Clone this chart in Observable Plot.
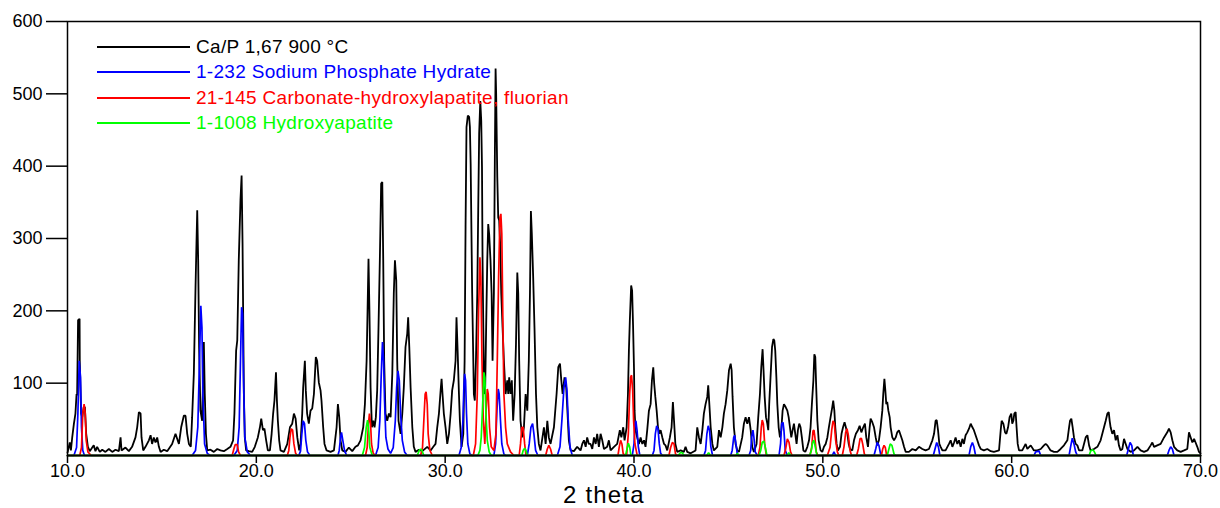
<!DOCTYPE html>
<html>
<head>
<meta charset="utf-8">
<script src="https://cdn.jsdelivr.net/npm/d3@7"></script>
<script src="https://cdn.jsdelivr.net/npm/@observablehq/plot@0.6"></script>
<style>
  html, body { margin: 0; padding: 0; background: #fff; }
  #wrap { position: relative; width: 1220px; height: 508px; font-family: "Liberation Sans", Arial, sans-serif; overflow: hidden; }
  #legend { position: absolute; left: 97px; top: 34px; }
  .row { display: flex; align-items: center; height: 25.5px; font-size: 19px; letter-spacing: 0.3px; white-space: nowrap; }
  .swatch { width: 93px; height: 1.6px; margin-right: 6px; }
  #xtitle { position: absolute; left: 563px; top: 482.5px; font-size: 24px; line-height: 1; letter-spacing: 1.2px; white-space: nowrap; }
</style>
</head>
<body>
<div id="wrap">
  <div id="chart"></div>
  <div id="legend"></div>
  <div id="xtitle"></div>
</div>
<script>
// Measured diffractogram of the sample, [2θ, intensity]
const samplePattern = [
  [10.0,4],[10.02,6],[10.12,18],[10.18,7],[10.25,25],[10.34,44],[10.42,58],[10.48,85],[10.51,83],[10.56,187],[10.64,189],[10.65,131],[10.72,58],[10.78,53],[10.86,67],[10.92,67],[10.99,30],[11.08,12],[11.18,6],[11.31,11],[11.39,14],[11.48,6],[11.57,12],[11.71,5],[11.84,8],[12.01,5],[12.19,9],[12.37,5],[12.54,8],[12.72,6],[12.81,25],[12.86,7],[13.07,11],[13.25,6],[13.42,12],[13.60,25],[13.69,39],[13.78,60],[13.87,58],[13.92,25],[14.01,7],[14.13,12],[14.31,21],[14.40,28],[14.48,16],[14.57,25],[14.66,18],[14.75,25],[14.84,12],[14.93,5],[15.10,8],[15.28,6],[15.54,16],[15.72,30],[15.90,16],[16.02,39],[16.16,55],[16.25,55],[16.34,30],[16.43,16],[16.53,12],[16.60,53],[16.69,113],[16.78,233],[16.83,293],[16.87,339],[16.92,270],[16.97,150],[17.04,62],[17.13,48],[17.22,157],[17.27,85],[17.33,30],[17.40,7],[17.57,8],[17.75,5],[17.93,9],[18.10,7],[18.28,6],[18.46,9],[18.63,12],[18.77,21],[18.84,58],[18.93,145],[18.99,159],[19.07,270],[19.16,353],[19.22,387],[19.27,293],[19.34,85],[19.39,25],[19.46,7],[19.60,6],[19.78,5],[19.92,12],
  [20.08,25],[20.19,39],[20.26,51],[20.35,35],[20.43,37],[20.52,21],[20.61,7],[20.72,7],[20.81,30],[20.89,58],[20.96,76],[21.04,115],[21.09,76],[21.14,48],[21.21,21],[21.28,7],[21.46,5],[21.64,16],[21.78,39],[21.90,44],[21.99,58],[22.08,51],[22.17,25],[22.27,7],[22.34,16],[22.43,58],[22.48,94],[22.57,131],[22.62,90],[22.69,58],[22.78,44],[22.87,62],[22.96,65],[23.05,85],[23.15,136],[23.22,131],[23.31,101],[23.40,90],[23.45,76],[23.54,39],[23.61,16],[23.72,7],[23.93,5],[24.11,7],[24.25,39],[24.32,71],[24.39,53],[24.46,21],[24.55,7],[24.72,5],[24.90,11],[25.08,6],[25.25,12],[25.38,14],[25.52,21],[25.66,39],[25.75,71],[25.84,131],[25.89,200],[25.94,272],[25.99,200],[26.05,94],[26.12,39],[26.19,48],[26.26,39],[26.33,53],[26.40,90],[26.47,177],[26.54,270],[26.61,376],[26.67,378],[26.72,270],[26.77,131],[26.84,58],[26.93,48],[27.02,58],[27.11,53],[27.20,113],[27.28,224],[27.34,270],[27.41,242],[27.46,131],[27.53,48],[27.64,30],[27.73,58],[27.81,94],[27.90,150],[27.99,168],[28.04,191],[28.10,150],[28.17,94],[28.26,39],[28.34,12],[28.43,5],[28.61,8],[28.79,6],[29.05,12],[29.23,7],[29.37,12],[29.49,16],[29.58,39],[29.67,58],[29.76,90],[29.81,106],[29.86,85],[29.93,58],[30.02,39],[30.11,16],
  [30.20,30],[30.29,58],[30.37,90],[30.46,104],[30.55,131],[30.60,191],[30.66,145],[30.73,85],[30.78,48],[30.87,12],[30.96,30],[31.03,131],[31.08,316],[31.13,454],[31.20,470],[31.27,468],[31.31,454],[31.35,403],[31.43,224],[31.52,85],[31.57,76],[31.63,131],[31.70,224],[31.75,339],[31.80,445],[31.86,490],[31.91,463],[31.95,399],[31.98,270],[32.02,177],[32.07,85],[32.12,94],[32.17,177],[32.23,270],[32.28,320],[32.33,306],[32.40,270],[32.46,224],[32.51,131],[32.58,224],[32.63,408],[32.67,535],[32.70,500],[32.76,385],[32.81,329],[32.86,325],[32.92,288],[32.97,224],[33.04,177],[33.11,131],[33.20,85],[33.29,104],[33.34,85],[33.39,108],[33.46,85],[33.53,104],[33.60,48],[33.68,85],[33.75,154],[33.82,253],[33.87,224],[33.92,131],[33.99,48],[34.08,25],[34.17,39],[34.26,85],[34.35,62],[34.43,131],[34.49,224],[34.54,338],[34.59,306],[34.66,247],[34.73,177],[34.81,85],[34.88,39],[34.96,16],[35.05,7],[35.23,39],[35.32,16],[35.41,48],[35.49,25],[35.58,16],[35.76,39],[35.90,85],[35.99,122],[36.08,127],[36.15,104],[36.22,85],[36.32,108],[36.41,94],[36.48,58],[36.55,21],[36.64,7],[36.82,6],[36.99,12],[37.17,7],[37.26,16],[37.35,21],[37.44,12],[37.52,25],[37.61,16],[37.70,16],[37.79,9],[37.88,25],[37.97,16],[38.05,30],[38.14,12],[38.23,30],[38.32,21],[38.41,9],[38.58,12],[38.67,21],[38.76,7],[38.94,12],[39.11,16],[39.25,35],[39.33,25],[39.43,39],[39.50,21],[39.61,39],[39.68,85],[39.73,145],[39.78,187],[39.85,235],[39.90,228],[39.95,180],[40.00,120],
  [40.03,62],[40.08,35],[40.17,25],[40.26,16],[40.35,25],[40.44,16],[40.53,21],[40.61,12],[40.70,35],[40.79,62],[40.88,71],[40.95,104],[41.02,122],[41.07,99],[41.13,81],[41.20,62],[41.27,39],[41.34,30],[41.41,35],[41.50,25],[41.59,16],[41.67,14],[41.76,7],[41.90,25],[41.99,39],[42.06,74],[42.12,48],[42.19,16],[42.29,5],[42.47,7],[42.64,5],[42.73,12],[42.82,5],[43.00,3],[43.26,7],[43.35,39],[43.44,25],[43.53,16],[43.62,35],[43.70,58],[43.79,71],[43.88,81],[43.93,97],[43.99,71],[44.06,39],[44.15,16],[44.23,7],[44.41,12],[44.50,35],[44.59,25],[44.68,39],[44.76,58],[44.85,71],[44.94,90],[45.03,118],[45.12,127],[45.17,118],[45.22,81],[45.29,39],[45.38,16],[45.47,7],[45.56,5],[45.73,25],[45.82,44],[45.91,53],[46.00,44],[46.09,53],[46.18,35],[46.26,12],[46.35,5],[46.49,16],[46.58,53],[46.67,85],[46.74,122],[46.81,147],[46.86,118],[46.92,81],[46.99,53],[47.06,44],[47.11,35],[47.16,71],[47.23,108],[47.31,150],[47.38,161],[47.43,159],[47.48,145],[47.54,108],[47.59,71],[47.66,39],[47.73,25],[47.80,35],[47.87,62],[47.94,71],[48.03,67],[48.12,62],[48.19,53],[48.26,39],[48.33,25],[48.40,35],[48.47,44],[48.54,30],[48.61,16],[48.68,35],[48.75,44],[48.82,39],[48.89,25],[48.97,7],[49.07,5],[49.18,12],[49.27,21],[49.35,39],[49.42,71],[49.50,104],[49.55,140],[49.60,136],[49.65,94],[49.71,48],[49.78,21],[49.88,7],[49.97,5],
  [50.06,12],[50.15,16],[50.24,25],[50.32,39],[50.41,53],[50.50,67],[50.55,76],[50.61,62],[50.66,39],[50.73,16],[50.80,7],[50.91,12],[50.99,30],[51.07,39],[51.15,46],[51.22,39],[51.30,30],[51.37,16],[51.44,9],[51.56,7],[51.65,21],[51.75,30],[51.86,35],[51.95,41],[52.04,32],[52.14,39],[52.23,44],[52.30,25],[52.39,12],[52.48,39],[52.53,51],[52.62,46],[52.71,39],[52.80,25],[52.88,14],[52.97,21],[53.06,39],[53.15,62],[53.20,85],[53.26,106],[53.31,90],[53.36,71],[53.41,74],[53.47,62],[53.54,53],[53.59,39],[53.68,25],[53.77,21],[53.86,25],[53.94,32],[54.03,35],[54.12,28],[54.21,21],[54.30,12],[54.39,5],[54.56,5],[54.74,9],[54.92,7],[55.09,12],[55.27,9],[55.44,7],[55.62,9],[55.80,21],[55.89,30],[55.97,48],[56.03,49],[56.10,35],[56.17,16],[56.24,12],[56.33,7],[56.50,7],[56.68,16],[56.77,21],[56.86,12],[56.95,18],[57.03,25],[57.12,16],[57.21,21],[57.30,12],[57.39,23],[57.47,16],[57.56,28],[57.65,32],[57.74,37],[57.83,44],[57.92,39],[58.00,35],[58.09,28],[58.18,21],[58.27,14],[58.36,9],[58.53,7],[58.71,9],[58.89,6],[59.06,5],[59.33,7],[59.42,35],[59.47,48],[59.56,44],[59.65,32],[59.72,30],[59.81,39],[59.89,53],[59.98,58],
  [60.03,44],[60.09,48],[60.14,58],[60.21,60],[60.26,39],[60.32,16],[60.39,7],[60.56,7],[60.74,16],[60.83,9],[61.01,14],[61.18,7],[61.36,7],[61.54,9],[61.71,14],[61.80,16],[61.89,14],[62.06,7],[62.24,5],[62.42,5],[62.59,9],[62.77,14],[62.95,21],[63.04,39],[63.09,48],[63.16,51],[63.23,39],[63.30,25],[63.39,16],[63.48,14],[63.57,7],[63.74,7],[63.83,16],[63.92,25],[64.01,28],[64.10,14],[64.18,7],[64.36,9],[64.54,12],[64.71,21],[64.80,30],[64.89,39],[64.98,48],[65.07,58],[65.14,60],[65.19,48],[65.24,39],[65.33,30],[65.42,35],[65.51,21],[65.60,28],[65.68,14],[65.77,7],[65.86,9],[65.95,23],[66.04,16],[66.13,9],[66.30,5],[66.48,7],[66.66,12],[66.83,7],[67.01,5],[67.19,7],[67.36,14],[67.45,18],[67.54,12],[67.71,14],[67.89,16],[68.07,25],[68.24,32],[68.33,37],[68.42,32],[68.51,21],[68.60,12],[68.77,7],[68.95,5],[69.13,7],[69.30,9],[69.39,32],[69.48,25],[69.57,18],[69.66,23],[69.74,18],[69.83,12],[69.92,5],[70.0,3]
];

// Reference card 1-232, Sodium Phosphate Hydrate
const sodiumPhosphate = [
  [10.0,0],[10.34,0],[10.48,11],[10.55,58],[10.62,131],[10.69,108],[10.74,39],[10.81,7],[10.90,0],
  [16.60,0],[16.78,7],[16.90,39],[16.99,131],[17.06,207],[17.12,177],[17.17,85],[17.26,16],[17.40,3],[17.57,0],
  [18.81,0],[18.99,7],[19.09,39],[19.16,131],[19.22,205],[19.27,196],[19.32,108],[19.39,25],[19.52,5],[19.69,0],
  [22.25,0],[22.34,6],[22.41,30],[22.48,48],[22.55,44],[22.62,21],[22.71,5],[22.84,0],
  [24.32,0],[24.39,7],[24.46,25],[24.51,32],[24.58,21],[24.67,7],[24.78,0],
  [26.31,0],[26.45,11],[26.54,48],[26.61,108],[26.68,157],[26.74,131],[26.79,76],[26.86,25],[26.97,9],[27.11,3],
  [27.25,11],[27.36,48],[27.43,94],[27.50,117],[27.57,104],[27.64,58],[27.73,21],[27.85,5],[27.99,0],
  [30.73,0],[30.85,11],[30.94,48],[30.99,94],[31.03,113],[31.08,104],[31.13,58],[31.20,16],[31.31,2],[31.43,0],
  [32.58,0],[32.67,16],[32.74,62],[32.81,92],[32.86,85],[32.93,48],[33.00,16],[33.11,2],[33.20,0],
  [34.35,0],[34.45,16],[34.54,39],[34.63,44],[34.70,30],[34.79,7],[34.91,0],
  [35.94,0],[36.08,12],[36.18,48],[36.29,94],[36.38,108],[36.45,90],[36.52,48],[36.61,12],[36.73,0],
  [39.91,0],[40.00,16],[40.05,44],[40.10,48],[40.16,35],[40.23,12],[40.31,0],
  [40.97,0],[41.06,7],[41.13,30],[41.20,41],[41.27,37],[41.34,16],[41.41,3],[41.51,0],
  [43.70,0],[43.79,7],[43.86,30],[43.93,41],[44.00,35],[44.07,12],[44.16,0],
  [45.12,0],[45.20,7],[45.28,25],[45.33,28],[45.40,16],[45.47,2],[45.56,0],
  [46.09,0],[46.18,7],[46.23,25],[46.30,35],[46.35,25],[46.42,5],[46.53,0],
  [47.68,0],[47.76,16],[47.82,44],[47.89,46],[47.94,35],[48.01,7],[48.12,0],
  [50.50,0],[50.59,5],[50.68,0],
  [52.71,0],[52.80,9],[52.88,18],[52.97,14],[53.06,2],[53.15,0],
  [55.85,0],[55.94,9],[56.03,18],[56.12,12],[56.20,0],
  [57.74,0],[57.83,12],[57.92,18],[58.00,12],[58.09,0],
  [61.18,0],[61.27,5],[61.45,6],[61.54,0],
  [63.04,0],[63.12,12],[63.21,24],[63.30,16],[63.39,5],[63.48,0],
  [66.09,0],[66.18,9],[66.27,18],[66.36,14],[66.44,0],
  [68.24,0],[68.33,7],[68.42,12],[68.51,9],[68.60,0],[70.0,0]
];

// Reference card 21-145, Carbonate-hydroxylapatite, fluorian
const carbonateApatite = [
  [10.0,0],[10.65,0],[10.74,11],[10.81,58],[10.88,71],[10.94,58],[10.99,21],[11.08,5],[11.25,0],
  [18.72,0],[18.81,9],[18.88,15],[18.99,15],[19.06,5],[19.16,0],
  [21.64,0],[21.72,7],[21.78,25],[21.85,37],[21.92,35],[21.99,16],[22.08,3],[22.17,0],
  [25.78,0],[25.87,11],[25.94,44],[25.99,58],[26.05,44],[26.10,16],[26.19,3],[26.31,0],
  [28.70,0],[28.80,11],[28.87,48],[28.94,85],[28.99,88],[29.05,71],[29.10,30],[29.19,7],[29.32,0],
  [31.49,0],[31.61,16],[31.70,85],[31.77,200],[31.84,274],[31.89,246],[31.95,131],[32.02,48],[32.10,16],
  [32.17,62],[32.23,92],[32.28,85],[32.35,39],[32.44,12],[32.58,7],[32.69,30],[32.76,131],[32.83,246],[32.90,329],[32.95,334],[33.00,306],[33.06,177],[33.11,85],[33.20,39],[33.29,16],[33.46,5],[33.64,0],
  [33.92,0],[33.99,16],[34.06,39],[34.13,39],[34.21,16],[34.28,0],
  [35.32,0],[35.41,9],[35.49,14],[35.58,9],[35.67,0],
  [39.15,0],[39.22,12],[39.29,21],[39.36,16],[39.43,2],
  [39.61,0],[39.70,30],[39.77,85],[39.82,108],[39.87,111],[39.93,90],[39.98,48],[40.05,16],[40.17,0],
  [41.85,0],[41.94,11],[42.03,18],[42.12,16],[42.20,2],[42.29,0],
  [46.58,0],[46.67,11],[46.74,39],[46.79,49],[46.85,44],[46.92,16],[47.01,0],
  [47.94,0],[48.03,9],[48.12,23],[48.21,18],[48.29,5],[48.38,0],
  [49.32,0],[49.41,11],[49.48,34],[49.53,35],[49.58,25],[49.65,5],[49.74,0],
  [50.24,0],[50.38,11],[50.47,35],[50.54,48],[50.61,44],[50.68,21],[50.77,5],[50.85,0],
  [51.03,0],[51.12,12],[51.21,32],[51.28,37],[51.35,28],[51.44,7],[51.52,0],
  [51.79,0],[51.88,9],[51.97,23],[52.04,24],[52.11,16],[52.20,2],[52.28,0],
  [53.10,0],[53.17,9],[53.24,14],[53.31,11],[53.38,0],[70.0,0]
];

// Reference card 1-1008, Hydroxyapatite
const hydroxyapatite = [
  [10.0,0],[25.61,0],[25.73,11],[25.82,39],[25.89,49],[25.94,39],[26.01,11],[26.14,0],
  [28.52,0],[28.63,7],[28.70,9],[28.77,7],[28.87,0],
  [31.73,0],[31.84,7],[31.91,25],[31.98,67],[32.05,115],[32.10,108],[32.16,58],[32.23,21],[32.33,5],[32.44,0],
  [34.06,0],[34.13,7],[34.21,10],[34.28,7],[34.35,0],
  [39.55,0],[39.63,9],[39.70,17],[39.77,12],[39.84,0],
  [42.35,0],[42.45,4],[42.55,4],[42.65,0],
  [43.85,0],[43.95,4],[44.05,0],
  [45.40,0],[45.47,3],[45.55,0],
  [46.62,0],[46.71,7],[46.79,18],[46.88,20],[46.95,12],[47.04,0],
  [48.10,0],[48.20,4],[48.30,0],
  [49.30,0],[49.39,7],[49.46,18],[49.53,21],[49.60,12],[49.69,0],
  [53.41,0],[53.50,9],[53.57,16],[53.66,14],[53.77,2],[53.86,0],
  [64.10,0],[64.18,6],[64.27,8],[64.36,6],[64.47,0],[70.0,0]
];

const seriesNames = [
  "Ca/P 1,67 900 °C",
  "1-232 Sodium Phosphate Hydrate",
  "21-145 Carbonate-hydroxylapatite, fluorian",
  "1-1008 Hydroxyapatite"
];
const seriesColors = ["#000000", "#0000ff", "#ff0000", "#00ff00"];
const seriesWidths = [1.8, 1.7, 1.7, 1.7];
const seriesData = [samplePattern, sodiumPhosphate, carbonateApatite, hydroxyapatite];

const xTicks = [10, 20, 30, 40, 50, 60, 70];
const yTicks = [100, 200, 300, 400, 500, 600];
const xTitle = "2 theta";

const traces = seriesData.map((pts, k) =>
  Plot.line(pts, {
    x: d => d[0],
    y: d => d[1],
    stroke: seriesColors[k],
    strokeWidth: seriesWidths[k],
    strokeLinejoin: "miter"
  })
);

const chart = Plot.plot({
  width: 1220,
  height: 508,
  marginLeft: 67,
  marginRight: 20,
  marginTop: 21,
  marginBottom: 53,
  x: {domain: [10, 70]},
  y: {domain: [0, 600]},
  style: {
    fontFamily: "'Liberation Sans', Arial, sans-serif",
    fontSize: "18px",
    color: "#000",
    background: "#fff",
    overflow: "visible"
  },
  marks: [
    ...traces,
    Plot.ruleY([0], {stroke: "#143c14", strokeWidth: 2}),
    Plot.frame({stroke: "#000", strokeWidth: 1.5}),
    Plot.axisY(yTicks, {tickSize: 21, tickPadding: 4, strokeWidth: 1.5, fontSize: 18, tickFormat: d => String(d), label: null}),
    Plot.axisX(xTicks, {tickSize: 8, tickPadding: 1, strokeWidth: 1.5, fontSize: 18, tickFormat: d => d.toFixed(1), label: null})
  ]
});
document.getElementById("chart").appendChild(chart);

// legend rows: colored line + series name
const legend = d3.select("#legend");
seriesNames.forEach((name, k) => {
  const row = legend.append("div").attr("class", "row").style("color", seriesColors[k]);
  row.append("div").attr("class", "swatch").style("background", seriesColors[k]);
  row.append("span").text(name);
});
document.getElementById("xtitle").textContent = xTitle;
</script>
</body>
</html>
